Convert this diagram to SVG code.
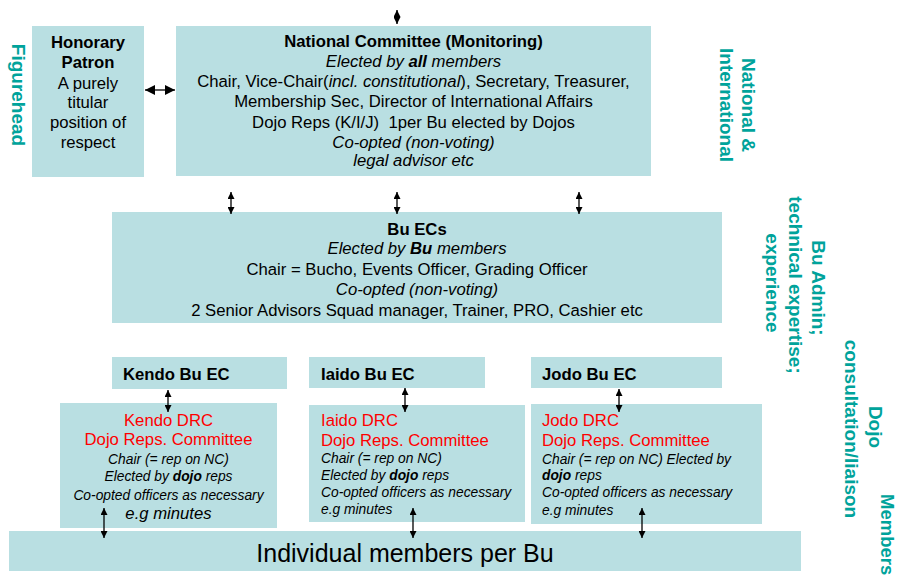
<svg xmlns="http://www.w3.org/2000/svg" width="898" height="580" viewBox="0 0 898 580">
<style>
text{font-family:"Liberation Sans",Arial,sans-serif;fill:#000}
.box{fill:#B9DFE2}
.m{font-size:16.7px}
.c{text-anchor:middle}
.b{font-weight:bold}
.i{font-style:italic}
.s{font-size:13.8px;font-style:italic}
.red{fill:#FF0000;font-size:16.7px}
.teal{fill:#00A39B;font-size:19px;font-weight:bold}
.con{stroke:#000;stroke-width:1.3;fill:none;marker-start:url(#ah);marker-end:url(#ah)}
</style>
<defs>
<marker id="ah" viewBox="0 0 10 10" refX="10" refY="5" markerWidth="7" markerHeight="7" markerUnits="userSpaceOnUse" orient="auto-start-reverse">
<path d="M0,0 L10,5 L0,10 z" fill="#000"/>
</marker>
<marker id="ahb" viewBox="0 0 10 10" refX="10" refY="5" markerWidth="10" markerHeight="10" markerUnits="userSpaceOnUse" orient="auto-start-reverse">
<path d="M0,0 L10,5 L0,10 z" fill="#000"/>
</marker>
</defs>

<g id="labels">
<text class="teal c" transform="translate(12,95) rotate(90)">Figurehead</text>
<text class="teal c" transform="translate(742,105) rotate(90)">National &amp;</text>
<text class="teal c" transform="translate(720,105) rotate(90)">International</text>
<text class="teal c" transform="translate(812,288) rotate(90)">Bu  Admin;</text>
<text class="teal c" transform="translate(789,285) rotate(90)">technical expertise;</text>
<text class="teal c" transform="translate(766,283) rotate(90)">experience</text>
<text class="teal c" transform="translate(869,427) rotate(90)">Dojo</text>
<text class="teal c" transform="translate(845,429) rotate(90)">consultation/liaison</text>
<text class="teal" transform="translate(881,494) rotate(90)" style="font-size:18.5px">Members</text>
</g>

<g id="patron">
<rect class="box" x="32" y="26" width="112" height="151"/>
<text class="m c b" x="88" y="48">Honorary</text>
<text class="m c b" x="88" y="68">Patron</text>
<text class="m c" x="88" y="89">A purely</text>
<text class="m c" x="88" y="108">titular</text>
<text class="m c" x="88" y="128">position of</text>
<text class="m c" x="88" y="148">respect</text>
</g>

<g id="national-committee">
<rect class="box" x="176" y="26" width="475" height="150"/>
<text class="m c b" x="413.5" y="47">National Committee (Monitoring)</text>
<text class="m c i" x="413.5" y="67">Elected by <tspan class="b">all</tspan> members</text>
<text class="m c" x="413.5" y="87">Chair, Vice-Chair(<tspan class="i">incl. constitutional</tspan>), Secretary, Treasurer,</text>
<text class="m c" x="413.5" y="107">Membership Sec, Director of International Affairs</text>
<text class="m c" x="413.5" y="128" style="white-space:pre">Dojo Reps (K/I/J)  1per Bu elected by Dojos</text>
<text class="m c i" x="413.5" y="148">Co-opted (non-voting)</text>
<text class="m c i" x="413.5" y="166">legal advisor etc</text>
</g>

<g id="bu-ecs">
<rect class="box" x="112" y="212" width="610" height="111"/>
<text class="m c b" x="417" y="235">Bu ECs</text>
<text class="m c i" x="417" y="254">Elected by <tspan class="b">Bu</tspan> members</text>
<text class="m c" x="417" y="275">Chair = Bucho, Events Officer, Grading Officer</text>
<text class="m c i" x="417" y="295">Co-opted (non-voting)</text>
<text class="m c" x="417" y="316">2 Senior Advisors Squad manager, Trainer, PRO, Cashier etc</text>
</g>

<g id="kendo-bu-ec">
<rect class="box" x="112" y="357" width="175" height="32"/>
<text class="m b" x="123" y="380">Kendo Bu EC</text>
</g>
<g id="iaido-bu-ec">
<rect class="box" x="309" y="357" width="176" height="31"/>
<text class="m b" x="321" y="380">Iaido Bu EC</text>
</g>
<g id="jodo-bu-ec">
<rect class="box" x="531" y="357" width="191" height="31"/>
<text class="m b" x="542" y="380">Jodo Bu EC</text>
</g>

<g id="kendo-drc">
<rect class="box" x="60" y="403" width="217" height="125"/>
<text class="red c" x="168.5" y="426">Kendo DRC</text>
<text class="red c" x="168.5" y="445">Dojo Reps. Committee</text>
<text class="s c" x="168.5" y="464">Chair (= rep on NC)</text>
<text class="s c" x="168.5" y="481">Elected by <tspan class="b">dojo</tspan> reps</text>
<text class="s c" x="168.5" y="500">Co-opted officers as necessary</text>
<text class="m i c" x="168.5" y="519">e.g minutes</text>
</g>

<g id="iaido-drc">
<rect class="box" x="309" y="405" width="216" height="117"/>
<text class="red" x="321" y="426">Iaido DRC</text>
<text class="red" x="321" y="446">Dojo Reps. Committee</text>
<text class="s" x="321" y="463">Chair (= rep on NC)</text>
<text class="s" x="321" y="480">Elected by <tspan class="b">dojo</tspan> reps</text>
<text class="s" x="321" y="497">Co-opted officers as necessary</text>
<text class="s" x="321" y="514">e.g minutes</text>
</g>

<g id="jodo-drc">
<rect class="box" x="531" y="404" width="231" height="120"/>
<text class="red" x="542" y="426">Jodo DRC</text>
<text class="red" x="542" y="446">Dojo Reps. Committee</text>
<text class="s" x="542" y="464">Chair (= rep on NC) Elected by</text>
<text class="s" x="542" y="480"><tspan class="b">dojo</tspan> reps</text>
<text class="s" x="542" y="497">Co-opted officers as necessary</text>
<text class="s" x="542" y="515">e.g minutes</text>
</g>

<g id="individual-members">
<rect class="box" x="9" y="531" width="792" height="40"/>
<text class="c" x="405" y="562" style="font-size:25px">Individual members per Bu</text>
</g>

<g id="connectors">
<line class="con" x1="397" y1="10" x2="397" y2="24"/>
<line class="con" x1="145" y1="90" x2="175" y2="90" style="marker-start:url(#ahb);marker-end:url(#ahb)"/>
<line class="con" x1="231" y1="192" x2="231" y2="214"/>
<line class="con" x1="397" y1="192" x2="397" y2="214"/>
<line class="con" x1="579" y1="192" x2="579" y2="214"/>
<line class="con" x1="168" y1="390" x2="168" y2="412"/>
<line class="con" x1="405" y1="388" x2="405" y2="412"/>
<line class="con" x1="619" y1="389" x2="619" y2="412"/>
<line class="con" x1="104" y1="508" x2="104" y2="538"/>
<line class="con" x1="413" y1="508" x2="413" y2="538"/>
<line class="con" x1="642" y1="508" x2="642" y2="538"/>
</g>
</svg>
